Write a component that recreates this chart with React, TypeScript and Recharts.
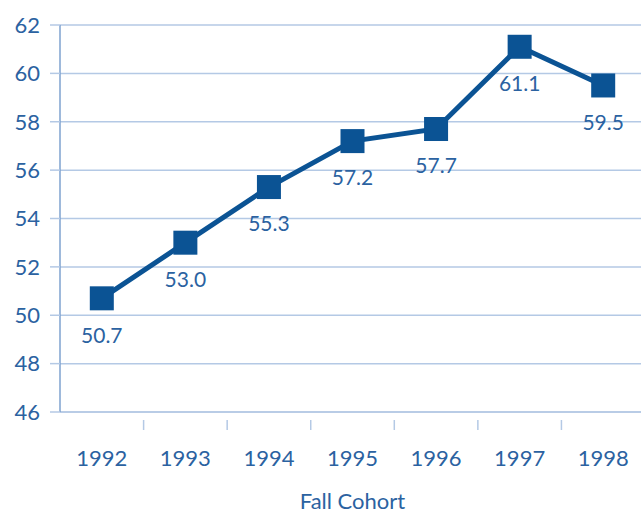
import React from 'react';
import { CartesianGrid, LabelList, Line, LineChart, XAxis, YAxis } from 'recharts';

const years = ['1992', '1993', '1994', '1995', '1996', '1997', '1998'];
const rates = [50.7, 53.0, 55.3, 57.2, 57.7, 61.1, 59.5];
const yTicks = [46, 48, 50, 52, 54, 56, 58, 60, 62];

const data = years.map((year, i) => ({ year, rate: rates[i] }));

const LINE = '#0b5394';
const TEXT = '#2b62a1';
const GRID = '#b4c9e5';
const FONT = 'Lato, "Open Sans", sans-serif';
const HALF_BAND = 41.8;

const SquareDot = (props: any) => {
    const { cx, cy } = props;
    if (cx == null || cy == null) return null;
    return <rect x={cx - 12} y={cy - 12} width={24} height={24} fill={LINE} />;
};

// year label plus a small tick mark on the boundary between categories
const YearTick = (props: any) => {
    const { x, y, payload, index } = props;
    return (
        <g>
            {index < years.length - 1 && (
                <line x1={x + HALF_BAND} y1={y} x2={x + HALF_BAND} y2={y + 10} stroke={GRID} strokeWidth={1.5} />
            )}
            <text x={x} y={y + 40} textAnchor="middle" dominantBaseline="middle" fill={TEXT} fontSize={22} fontFamily={FONT}>
                {payload.value}
            </text>
        </g>
    );
};

const ValueLabel = (props: any) => {
    const { x, y, value } = props;
    return (
        <text x={x} y={y + 39} textAnchor="middle" dominantBaseline="middle" fill={TEXT} fontSize={21} fontFamily={FONT}>
            {Number(value).toFixed(1)}
        </text>
    );
};

export default function App() {
    return (
        <div style={{ position: 'fixed', left: 0, top: 0, width: 641, height: 515, overflow: 'hidden', background: '#fff' }}>
            <LineChart width={645} height={515} data={data} margin={{ top: 25, right: 0, bottom: 0, left: 0 }}>
                <CartesianGrid vertical={false} stroke={GRID} strokeWidth={1.5} />
                <XAxis
                    dataKey="year"
                    height={103}
                    padding={{ left: HALF_BAND, right: HALF_BAND }}
                    axisLine={{ stroke: GRID, strokeWidth: 1.5 }}
                    tickLine={false}
                    tick={<YearTick />}
                    interval={0}
                    label={{ value: 'Fall Cohort', position: 'insideBottom', offset: 6, fill: TEXT, fontSize: 22, fontFamily: FONT }}
                />
                <YAxis
                    width={60}
                    domain={[46, 62]}
                    ticks={yTicks}
                    interval={0}
                    axisLine={{ stroke: '#7ea2cf', strokeWidth: 1.5 }}
                    tickLine={{ stroke: GRID, strokeWidth: 1.5 }}
                    tickSize={10}
                    tickMargin={10}
                    tick={{ fill: TEXT, fontSize: 22, fontFamily: FONT }}
                />
                <Line
                    type="linear"
                    dataKey="rate"
                    stroke={LINE}
                    strokeWidth={5}
                    dot={<SquareDot />}
                    activeDot={false}
                    isAnimationActive={false}
                >
                    <LabelList dataKey="rate" content={<ValueLabel />} />
                </Line>
            </LineChart>
        </div>
    );
}
